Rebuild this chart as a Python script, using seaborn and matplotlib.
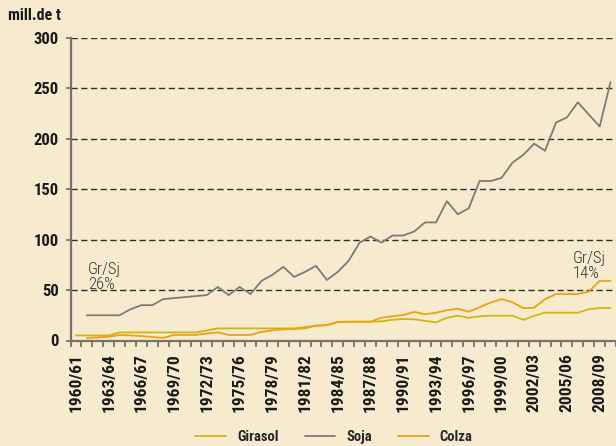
import numpy as np
import pandas as pd
import matplotlib
matplotlib.use("Agg")
import matplotlib.pyplot as plt
import seaborn as sns

nan = np.nan
campanyas = ["1960/61", "1961/62", "1962/63", "1963/64", "1964/65", "1965/66", "1966/67",
             "1967/68", "1968/69", "1969/70", "1970/71", "1971/72", "1972/73", "1973/74",
             "1974/75", "1975/76", "1976/77", "1977/78", "1978/79", "1979/80", "1980/81",
             "1981/82", "1982/83", "1983/84", "1984/85", "1985/86", "1986/87", "1987/88",
             "1988/89", "1989/90", "1990/91", "1991/92", "1992/93", "1993/94", "1994/95",
             "1995/96", "1996/97", "1997/98", "1998/99", "1999/00", "2000/01", "2001/02",
             "2002/03", "2003/04", "2004/05", "2005/06", "2006/07", "2007/08", "2008/09",
             "2009/10"]

girasol = [5, 5, 5, 5, 8, 8, 8, 8, 8, 8, 8, 8, 10, 12, 12, 12, 12, 12, 12, 12,
           12, 13.3, 14.7, 15.2, 18.3, 18.6, 18.6, 18.6, 19, 20.5, 21.3, 21, 19.5, 18, 22.5,
           24.6, 22.5, 24, 24.6, 24.6, 24.6, 20.5, 24.5, 27.6, 27.6, 27.6, 27.5, 31, 32.2, 32.2]

soja = [nan, 25, 25, 25, 25, 31, 35, 35, 41, 42, 43, 44, 45, 53, 45, 53, 46, 59, 65, 73,
        63, 68, 74, 60, 68, 79, 97, 103, 97, 104, 104, 108, 117, 117, 138, 125, 131, 158, 158, 161,
        176, 184, 195, 188, 216, 221, 236, 224, 212, 256]

colza = [nan, 2.5, 3, 3.8, 5.5, 5, 4.3, 3.5, 2.6, 5.5, 5.5, 5.5, 7, 8.1, 5.5, 5.5, 5.5, 8.5, 10.1, 11,
         11.4, 12, 14.7, 15.2, 18.3, 18.6, 18.6, 18.6, 22.6, 24, 25.3, 28.3, 26, 27.5, 30,
         31.5, 28.5, 33, 37.5, 41, 38, 32, 32.5, 41, 46, 46, 46, 48.5, 59, 59]

series_names = ["Girasol", "Soja", "Colza"]
colors = {"Girasol": "#D1B60F", "Soja": "#7c7b78", "Colza": "#EBA312"}
notas = ["Gr/Sj\n26%", "Gr/Sj\n14%"]

BG = "#F6EBCF"
SPINE = "#77736b"
FAM = ["Roboto Condensed", "DejaVu Sans"]

idx = np.arange(len(campanyas))
df = pd.concat([
    pd.DataFrame({"idx": idx, "val": vals, "serie": name})
    for name, vals in zip(series_names, [girasol, soja, colza])
], ignore_index=True)

sns.set_theme(style="white")
plt.rcParams["font.family"] = FAM

fig = plt.figure(figsize=(6.16, 4.46), dpi=100, facecolor=BG)
ax = fig.add_axes([70.5 / 616, 1 - 340.5 / 446, 1 - 70.5 / 616, (340.5 - 37.7) / 446])
ax.set_facecolor(BG)

sns.lineplot(data=df.dropna(), x="idx", y="val", hue="serie", hue_order=series_names,
             palette=colors, linewidth=1.3, estimator=None, sort=False,
             legend=False, ax=ax)

ax.set_ylim(0, 300)
ax.set_xlim(-0.5, 49.32)
ax.set_yticks(np.arange(0, 301, 50))
ax.yaxis.grid(True, linestyle=(0, (4.5, 2.5)), color="#2f2f2f", linewidth=1.0)
ax.xaxis.grid(False)
ax.set_axisbelow(True)

for s in ["top", "right"]:
    ax.spines[s].set_visible(False)
for s in ["left", "bottom"]:
    ax.spines[s].set_color(SPINE)
    ax.spines[s].set_linewidth(1.6)
    ax.spines[s].set_zorder(5)

ax.set_xlabel("")
ax.set_ylabel("")

ax.tick_params(axis="y", length=3.5, width=1.3, color=SPINE, pad=5, labelsize=12,
               labelcolor="#1a1a1a", left=True)
for lab in ax.get_yticklabels():
    lab.set_fontweight("bold")

ax.set_xticks(idx[::3])
ax.set_xticklabels(campanyas[::3], rotation=90, fontsize=12.5, fontweight="bold",
                   color="#1a1a1a", va="top")
ax.set_xticks(np.arange(-0.5, 50, 1), minor=True)
ax.tick_params(axis="x", which="major", length=0, pad=9, bottom=True)
ax.tick_params(axis="x", which="minor", length=4, width=1.3, color=SPINE, bottom=True)

ax.text(1.1, 78, notas[0], ha="left", va="top", fontsize=12, color="#333333",
        linespacing=1.0, fontweight="light")
ax.text(45.5, 89, notas[1], ha="left", va="top", fontsize=12, color="#333333",
        linespacing=1.0, fontweight="light")

fig.text(8 / 616, 1 - 15 / 446, "mill.de t", ha="left", va="center", fontsize=11.5,
         fontweight="bold", color="#1a1a1a")

handles = ax.get_lines()[:3]
fig.legend(handles, series_names, loc="center", bbox_to_anchor=(334 / 616, 1 - 437 / 446),
           ncol=3, frameon=False, prop={"family": FAM, "size": 10.5, "weight": "bold"},
           handlelength=2.1, handletextpad=0.75, columnspacing=1.8)

fig.savefig("out.png", dpi=100, facecolor=BG)
